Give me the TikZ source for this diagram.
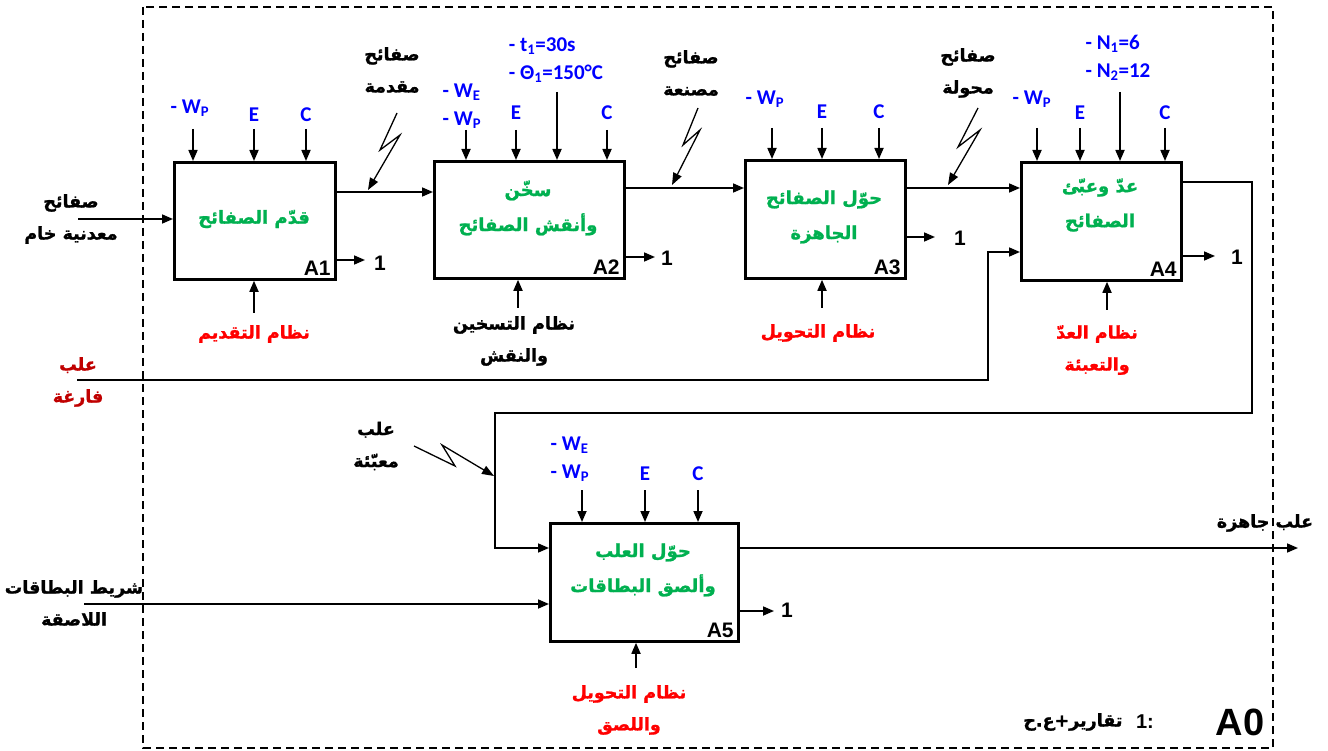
\documentclass[tikz,border=0pt]{standalone}
\usepackage{fontspec}
\setmainfont{Liberation Sans}
\newfontfamily\arabicfont[Script=Arabic,BoldFeatures={FakeBold=1.2}]{DejaVu Sans}
\newfontfamily\calibfont{Carlito}
\TeXXeTstate=1
\usetikzlibrary{arrows.meta}
\newcommand\artxt[1]{{\arabicfont\bfseries\beginR #1\endR}}
\definecolor{grn}{HTML}{00B050}
\definecolor{blu}{HTML}{0000FF}
\definecolor{rd}{HTML}{FF0000}
\definecolor{drd}{HTML}{C00000}
\begin{document}
\begin{tikzpicture}[x=1pt,y=-1pt,
  arr/.style={line width=1.7pt,-{Triangle[length=11pt,width=9pt]}},
  zz/.style={line width=1.3pt,-{Triangle[length=12pt,width=9pt]}},
  box/.style={draw,line width=2.8pt,anchor=north west,inner sep=0pt},
  ttl/.style={text=grn,align=center,font=\fontsize{18}{35}\selectfont},
  lbl/.style={align=center,font=\fontsize{17.5}{32}\selectfont},
  ctl/.style={text=blu,font=\calibfont\bfseries\fontsize{21}{28}\selectfont,align=left,inner sep=0pt},
  idl/.style={font=\bfseries\fontsize{21}{22}\selectfont,inner sep=0pt},
  frame/.style={line width=1.2pt,dash pattern=on 8pt off 5pt}
]
\useasboundingbox (0,0) rectangle (1328,751);
\draw[frame] (143,7) rectangle (1273,748);

% boxes
\node[box,minimum width=161pt,minimum height=117pt] (A1) at (173,161) {};
\node[box,minimum width=190pt,minimum height=117pt] (A2) at (433,160) {};
\node[box,minimum width=160pt,minimum height=118pt] (A3) at (744,159) {};
\node[box,minimum width=160pt,minimum height=118pt] (A4) at (1020,161) {};
\node[box,minimum width=188pt,minimum height=118pt] (A5) at (549,522) {};

% box ids
\node[idl,anchor=south east] (A1id) at ([xshift=-6pt,yshift=5pt]A1.south east) {A1};
\node[idl,anchor=south east] (A2id) at ([xshift=-6pt,yshift=5pt]A2.south east) {A2};
\node[idl,anchor=south east] (A3id) at ([xshift=-6pt,yshift=5pt]A3.south east) {A3};
\node[idl,anchor=south east] (A4id) at ([xshift=-6pt,yshift=5pt]A4.south east) {A4};
\node[idl,anchor=south east] (A5id) at ([xshift=-6pt,yshift=5pt]A5.south east) {A5};

% titles
\node[ttl] (A1t) at (254,219) {\artxt{قدّم الصفائح}};
\node[ttl] (A2t) at (528,208) {\artxt{سخّن}\\\artxt{وأنقش الصفائح}};
\node[ttl] (A3t) at (824,217) {\artxt{حوّل الصفائح}\\\artxt{الجاهزة}};
\node[ttl] (A4t) at (1100,205) {\artxt{عدّ وعبّئ}\\\artxt{الصفائح}};
\node[ttl] (A5t) at (643,570) {\artxt{حوّل العلب}\\\artxt{وألصق البطاقات}};

% controls A1
\node[ctl] (c1w) at (190,108) {- W\textsubscript{P}};
\node[ctl] (c1e) at (254,115) {E};
\node[ctl] (c1c) at (306,115) {C};
\coordinate (s1w) at (193,129);
\coordinate (s1e) at (254,129);
\coordinate (s1c) at (306,129);
\draw[arr] (s1w) -- (s1w |- A1.north);
\draw[arr] (s1e) -- (s1e |- A1.north);
\draw[arr] (s1c) -- (s1c |- A1.north);
% controls A2
\node[ctl] (c2w) at (462,106) {- W\textsubscript{E}\\- W\textsubscript{P}};
\node[ctl] (c2e) at (516,113) {E};
\node[ctl] (c2t) at (556,60) {- t\textsubscript{1}=30s\\- Θ\textsubscript{1}=150°C};
\node[ctl] (c2c) at (607,113) {C};
\coordinate (s2w) at (466,130);
\coordinate (s2e) at (516,130);
\coordinate (s2t) at (557,92);
\coordinate (s2c) at (607,130);
\draw[arr] (s2w) -- (s2w |- A2.north);
\draw[arr] (s2e) -- (s2e |- A2.north);
\draw[arr] (s2t) -- (s2t |- A2.north);
\draw[arr] (s2c) -- (s2c |- A2.north);
% controls A3
\node[ctl] (c3w) at (765,99) {- W\textsubscript{P}};
\node[ctl] (c3e) at (822,112) {E};
\node[ctl] (c3c) at (879,112) {C};
\coordinate (s3w) at (772,128);
\coordinate (s3e) at (822,128);
\coordinate (s3c) at (879,128);
\draw[arr] (s3w) -- (s3w |- A3.north);
\draw[arr] (s3e) -- (s3e |- A3.north);
\draw[arr] (s3c) -- (s3c |- A3.north);
% controls A4
\node[ctl] (c4w) at (1032,99) {- W\textsubscript{P}};
\node[ctl] (c4e) at (1080,113) {E};
\node[ctl] (c4n) at (1118,58) {- N\textsubscript{1}=6\\- N\textsubscript{2}=12};
\node[ctl] (c4c) at (1165,113) {C};
\coordinate (s4w) at (1037,128);
\coordinate (s4e) at (1080,128);
\coordinate (s4n) at (1120,92);
\coordinate (s4c) at (1165,128);
\draw[arr] (s4w) -- (s4w |- A4.north);
\draw[arr] (s4e) -- (s4e |- A4.north);
\draw[arr] (s4n) -- (s4n |- A4.north);
\draw[arr] (s4c) -- (s4c |- A4.north);
% controls A5
\node[ctl] (c5w) at (570,459) {- W\textsubscript{E}\\- W\textsubscript{P}};
\node[ctl] (c5e) at (645,474) {E};
\node[ctl] (c5c) at (698,474) {C};
\coordinate (s5w) at (582,490);
\coordinate (s5e) at (645,490);
\coordinate (s5c) at (698,490);
\draw[arr] (s5w) -- (s5w |- A5.north);
\draw[arr] (s5e) -- (s5e |- A5.north);
\draw[arr] (s5c) -- (s5c |- A5.north);

% mechanisms
\node[lbl,text=rd] (m1) at (254,334) {\artxt{نظام التقديم}};
\node[lbl] (m2) at (514,341) {\artxt{نظام التسخين}\\\artxt{والنقش}};
\node[lbl,text=rd] (m3) at (818,333) {\artxt{نظام التحويل}};
\node[lbl,text=rd] (m4) at (1097,350) {\artxt{نظام العدّ}\\\artxt{والتعبئة}};
\node[lbl,text=rd] (m5) at (629,710) {\artxt{نظام التحويل}\\\artxt{واللصق}};
\coordinate (b1) at (254,313);
\coordinate (b2) at (518,308);
\coordinate (b3) at (822,308);
\coordinate (b4) at (1107,310);
\coordinate (b5) at (636,668);
\draw[arr] (b1) -- (b1 |- A1.south);
\draw[arr] (b2) -- (b2 |- A2.south);
\draw[arr] (b3) -- (b3 |- A3.south);
\draw[arr] (b4) -- (b4 |- A4.south);
\draw[arr] (b5) -- (b5 |- A5.south);

% outputs "1"
\coordinate (o1) at (365,260); \node[idl] (n1) at (380,263) {1};
\coordinate (o2) at (655,257); \node[idl] (n2) at (667,258) {1};
\coordinate (o3) at (935,237); \node[idl] (n3) at (960,238) {1};
\coordinate (o4) at (1215,256); \node[idl] (n4) at (1237,257) {1};
\coordinate (o5) at (774,611); \node[idl] (n5) at (787,610) {1};
\draw[arr] (o1 -| A1.east) -- (o1);
\draw[arr] (o2 -| A2.east) -- (o2);
\draw[arr] (o3 -| A3.east) -- (o3);
\draw[arr] (o4 -| A4.east) -- (o4);
\draw[arr] (o5 -| A5.east) -- (o5);

% main input to A1
\node[lbl] (in1) at (71,219) {\artxt{صفائح}\\\artxt{معدنية خام}};
\coordinate (i1) at (78,219);
\draw[arr] (i1) -- (i1 -| A1.west);

% A1 -> A2 -> A3 -> A4
\coordinate (y12) at (0,192);
\coordinate (y23) at (0,188);
\coordinate (y34) at (0,188);
\draw[arr] (A1.east |- y12) -- (A2.west |- y12);
\draw[arr] (A2.east |- y23) -- (A3.west |- y23);
\draw[arr] (A3.east |- y34) -- (A4.west |- y34);

% lightning labels
\node[lbl] (z1l) at (392,70) {\artxt{صفائح}\\\artxt{مقدمة}};
\node[lbl] (z2l) at (691,73) {\artxt{صفائح}\\\artxt{مصنعة}};
\node[lbl] (z3l) at (968,73) {\artxt{صفائح}\\\artxt{محولة}};
\node[lbl] (z4l) at (376,446) {\artxt{علب}\\\artxt{معبّئة}};
\coordinate (z1) at (397,113);
\coordinate (z2) at (698,108);
\coordinate (z3) at (978,108);
\coordinate (z4) at (414,446);
\draw[zz] (z1) -- (380,150) -- (400,135) -- (368,190);
\draw[zz] (z2) -- (683,145) -- (700,130) -- (672,185);
\draw[zz] (z3) -- (958,147) -- (980,130) -- (948,185);
\draw[zz] (z4) -- (455,466) -- (442,445) -- (494,476);

% empty cans
\node[lbl,text=drd] (ec) at (78,382) {\artxt{علب}\\\artxt{فارغة}};
\coordinate (e0) at (77,380);
\coordinate (e1) at (988,380);
\coordinate (e2) at (988,252);
\draw[arr] (e0) -- (e1) -- (e2) -- (e2 -| A4.west);

% A4 -> A5
\coordinate (f0) at (0,182);
\coordinate (f1) at (1252,182);
\coordinate (f2) at (1252,413);
\coordinate (f3) at (495,413);
\coordinate (f4) at (495,548);
\draw[arr] (A4.east |- f0) -- (f1) -- (f2) -- (f3) -- (f4) -- (f4 -| A5.west);

% label tape
\node[lbl] (tp) at (74,603) {\artxt{شريط البطاقات}\\\artxt{اللاصقة}};
\coordinate (t0) at (84,604);
\draw[arr] (t0) -- (t0 -| A5.west);

% output
\node[lbl] (outl) at (1265,523) {\artxt{علب جاهزة}};
\coordinate (g1) at (1298,548);
\draw[arr] (A5.east |- g1) -- (g1);

% legend
\node[idl,font=\bfseries\fontsize{20}{22}\selectfont] (leg1) at (1145,722) {1:};
\node[lbl,anchor=east] (leg2) at (1126,722) {\artxt{تقارير+ع.ح}};
\node[idl,font=\bfseries\fontsize{38}{40}\selectfont] (A0) at (1240,722) {A0};
\end{tikzpicture}
\end{document}
